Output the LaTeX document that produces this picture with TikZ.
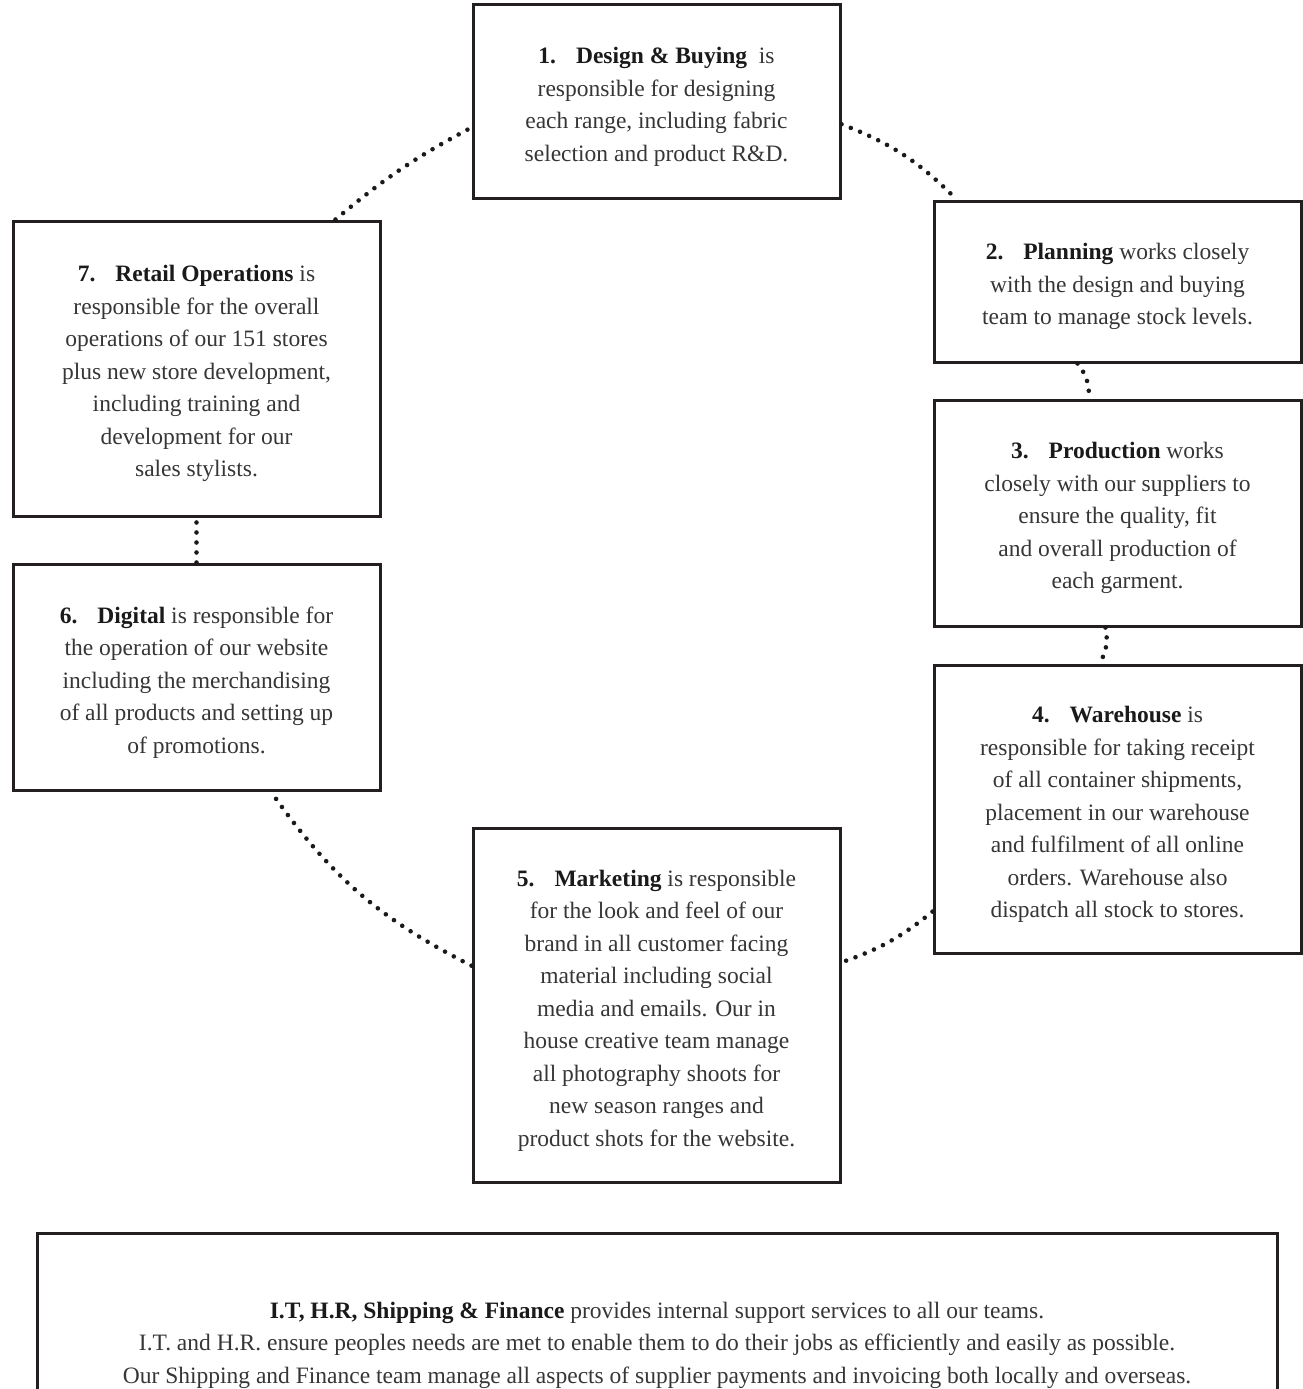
\documentclass[tikz,border=0pt]{standalone}
\usepackage{fontspec}
\setmainfont{Liberation Serif}
\definecolor{boxc}{HTML}{231F20}
\definecolor{txtc}{HTML}{363636}
\definecolor{headc}{HTML}{1A1A1A}
\definecolor{dotc}{HTML}{1A1A1A}
\newcommand\hd[2]{\rule{0pt}{27pt}\textbf{\color{headc}#1\hspace{0.85em}#2}}
\begin{document}
\begin{tikzpicture}[x=1pt,y=-1pt,
  box/.style={draw=boxc, line width=3pt, minimum width=367pt, inner sep=0pt,
    align=center, font=\fontsize{23.5}{32.5}\selectfont, text=txtc},
  dotcon/.style={draw=dotc, line width=4.6pt, line cap=round, dash pattern=on 0pt off 10pt},
]
\path[use as bounding box, clip] (0,0) rectangle (1303,1389);
\fill[white] (0,0) rectangle (1303,1389);

\node[box, minimum height=193pt] (b1) at (656.5,101.5)
  {\hd{1.}{Design \& Buying}\ \ is\\responsible for designing\\each range, including fabric\\selection and product R\&D.};
\node[box, minimum height=161pt] (b2) at (1117.5,281.5)
  {\hd{2.}{Planning} works closely\\with the design and buying\\team to manage stock levels.};
\node[box, minimum height=226pt] (b3) at (1117.5,513)
  {\hd{3.}{Production} works\\closely with our suppliers to\\ensure the quality, fit\\and overall production of\\each garment.};
\node[box, minimum height=288pt] (b4) at (1117.5,809)
  {\hd{4.}{Warehouse} is\\responsible for taking receipt\\of all container shipments,\\placement in our warehouse\\and fulfilment of all online\\orders. Warehouse also\\dispatch all stock to stores.};
\node[box, minimum height=354pt] (b5) at (656.5,1005)
  {\hd{5.}{Marketing} is responsible\\for the look and feel of our\\brand in all customer facing\\material including social\\media and emails. Our in\\house creative team manage\\all photography shoots for\\new season ranges and\\product shots for the website.};
\node[box, minimum height=226pt] (b6) at (196.5,677)
  {\hd{6.}{Digital} is responsible for\\the operation of our website\\including the merchandising\\of all products and setting up\\of promotions.};
\node[box, minimum height=295pt] (b7) at (196.5,368.5)
  {\hd{7.}{Retail Operations} is\\responsible for the overall\\operations of our 151 stores\\plus new store development,\\including training and\\development for our\\sales stylists.};

\node[draw=boxc, line width=3pt, minimum width=1240pt, minimum height=180pt, inner sep=0pt] (b8) at (657,1323) {};
\node[align=center, font=\fontsize{23.5}{32.5}\selectfont, text=txtc, inner sep=0pt] (t8) at (657,1345)
  {\textbf{\color{headc}I.T, H.R, Shipping \& Finance} provides internal support services to all our teams.\\
   I.T. and H.R. ensure peoples needs are met to enable them to do their jobs as efficiently and easily as possible.\\
   Our Shipping and Finance team manage all aspects of supplier payments and invoicing both locally and overseas.};

\draw[dotcon] (b1.353) to[bend left=12] (b2.153);
\draw[dotcon] (b2.244) to[bend left=20] (b3.104);
\draw[dotcon] (b3.264) to[bend left=20] (b4.97);
\draw[dotcon] (b4.209) to[bend left=10] (b5.13);
\draw[dotcon] (b5.168) to[bend left=14] (b6.303);
\draw[dotcon] (b6.north) -- (b7.south);
\draw[dotcon] (b7.47) to[bend left=6] (b1.188);
\end{tikzpicture}
\end{document}
